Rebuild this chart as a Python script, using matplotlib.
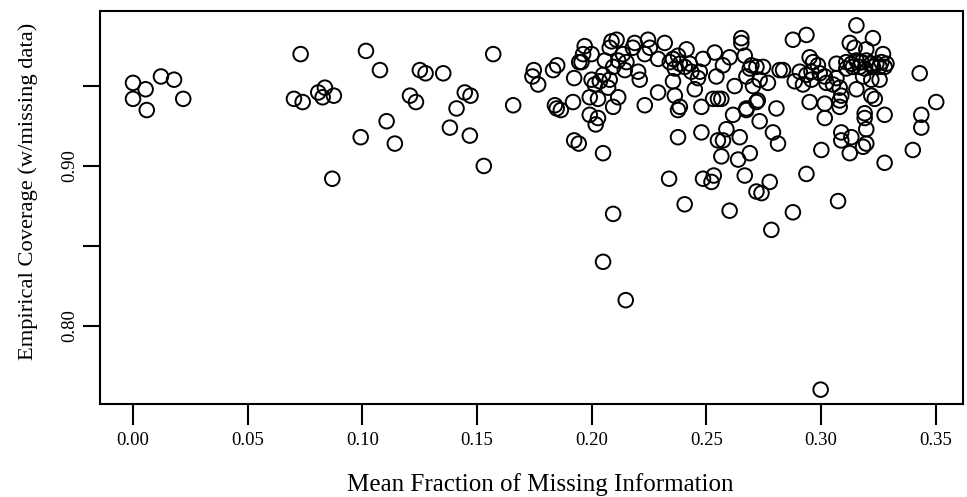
import numpy as np
import matplotlib
matplotlib.use("Agg")
import matplotlib.pyplot as plt

# mean fraction of missing information (x) and empirical coverage (y)
mfmi = [
    0.000, 0.000, 0.0055, 0.006, 0.0122, 0.0179, 0.0219,
    0.0731, 0.0702, 0.074, 0.0808, 0.0837, 0.0827, 0.0876, 0.0869,
    0.1016, 0.1077, 0.1106, 0.0993, 0.1142,
    0.1251, 0.1276, 0.1353, 0.1571, 0.1208, 0.1234, 0.1447, 0.1472, 0.1411,
    0.1382, 0.1469, 0.153, 0.1658, 0.1748, 0.1742, 0.1767, 0.1832, 0.185,
    0.1924, 0.1946, 0.184, 0.1848, 0.1866, 0.1919, 0.1924, 0.1944,
    0.197, 0.1963, 0.200, 0.1956, 0.2087, 0.2109, 0.2079, 0.2188, 0.218,
    0.2246, 0.2254, 0.2319, 0.229, 0.2232, 0.2137, 0.2116, 0.2152, 0.2058,
    0.2094, 0.2145, 0.205, 0.2036, 0.200, 0.2014, 0.2079, 0.2072, 0.2116,
    0.1992, 0.2028, 0.2094, 0.1992, 0.2028, 0.2018, 0.205, 0.2203, 0.221,
    0.2232, 0.229, 0.2341, 0.2355, 0.2377, 0.2414, 0.2385, 0.2363, 0.2406,
    0.2428, 0.2435, 0.2472, 0.2464, 0.2486, 0.2537, 0.2602, 0.2573, 0.2544,
    0.2355, 0.2363, 0.2385, 0.2377, 0.245, 0.2479, 0.253, 0.2551, 0.2566,
    0.2624, 0.2653, 0.2653, 0.2668, 0.2617, 0.2675, 0.2377, 0.2479, 0.2551,
    0.2573, 0.2588, 0.2646, 0.2566, 0.2639, 0.269, 0.2338, 0.2486, 0.2523,
    0.2533, 0.2668, 0.2406, 0.2602, 0.2094, 0.2719, 0.2697, 0.2725, 0.2719,
    0.2784, 0.2878, 0.205, 0.2149, 0.2999,
    0.3155, 0.2878, 0.2937, 0.3227, 0.3126, 0.3147, 0.3271, 0.3198, 0.2951,
    0.2966, 0.2987, 0.3068, 0.3111, 0.3133, 0.3155, 0.3177, 0.3198, 0.322,
    0.3242, 0.3264, 0.3286, 0.3111, 0.314, 0.3169, 0.3191, 0.3227, 0.3256,
    0.3278, 0.269, 0.2748, 0.282, 0.2835, 0.2908, 0.2937, 0.2959, 0.2995,
    0.3017, 0.2886, 0.2922, 0.2959, 0.3024, 0.3053, 0.3068, 0.3082, 0.3089,
    0.3082, 0.3155, 0.3184, 0.322, 0.3256, 0.322, 0.3235, 0.2675, 0.2733,
    0.2769, 0.2704, 0.2719, 0.2675, 0.2806, 0.2951, 0.3017, 0.3082, 0.2733,
    0.3017, 0.2791, 0.2813, 0.3002, 0.3089, 0.3089, 0.3133, 0.3126, 0.3191,
    0.3191, 0.3198, 0.3198, 0.3184, 0.3278, 0.3278, 0.3431, 0.3503, 0.3438,
    0.3438, 0.3401, 0.2937, 0.2777, 0.2741, 0.3075,
]
coverage = [
    0.952, 0.942, 0.948, 0.935, 0.956, 0.954, 0.942,
    0.970, 0.942, 0.940, 0.946, 0.949, 0.943, 0.944, 0.892,
    0.972, 0.960, 0.928, 0.918, 0.914,
    0.960, 0.958, 0.958, 0.970, 0.944, 0.940, 0.946, 0.944, 0.936,
    0.924, 0.919, 0.900, 0.938, 0.960, 0.956, 0.951, 0.960, 0.963,
    0.955, 0.965, 0.938, 0.936, 0.935, 0.940, 0.916, 0.914,
    0.975, 0.970, 0.970, 0.965, 0.978, 0.979, 0.974, 0.977, 0.974,
    0.979, 0.974, 0.977, 0.967, 0.970, 0.970, 0.966, 0.965, 0.966,
    0.962, 0.960, 0.957, 0.953, 0.954, 0.951, 0.954, 0.949, 0.943,
    0.943, 0.942, 0.937, 0.932, 0.930, 0.926, 0.908, 0.959, 0.954,
    0.938, 0.946, 0.965, 0.967, 0.969, 0.973, 0.964, 0.961, 0.962,
    0.964, 0.959, 0.959, 0.955, 0.967, 0.971, 0.968, 0.963, 0.956,
    0.953, 0.944, 0.937, 0.935, 0.948, 0.937, 0.942, 0.942, 0.942,
    0.950, 0.977, 0.980, 0.969, 0.932, 0.935, 0.918, 0.921, 0.916,
    0.916, 0.923, 0.918, 0.906, 0.904, 0.908, 0.892, 0.892, 0.890,
    0.894, 0.894, 0.876, 0.872, 0.870, 0.962, 0.963, 0.941, 0.884,
    0.860, 0.871, 0.840, 0.816, 0.760,
    0.988, 0.979, 0.982, 0.980, 0.977, 0.974, 0.970, 0.973, 0.968,
    0.965, 0.963, 0.964, 0.965, 0.964, 0.966, 0.965, 0.966, 0.964,
    0.964, 0.965, 0.964, 0.961, 0.962, 0.962, 0.961, 0.962, 0.962,
    0.962, 0.961, 0.962, 0.960, 0.960, 0.959, 0.957, 0.959, 0.958,
    0.956, 0.953, 0.951, 0.954, 0.952, 0.951, 0.955, 0.949, 0.944,
    0.941, 0.948, 0.956, 0.954, 0.954, 0.944, 0.942, 0.956, 0.954,
    0.952, 0.950, 0.940, 0.936, 0.936, 0.940, 0.939, 0.937, 0.928,
    0.930, 0.921, 0.914, 0.910, 0.921, 0.916, 0.918, 0.908, 0.933,
    0.930, 0.923, 0.914, 0.912, 0.932, 0.902, 0.958, 0.940, 0.932,
    0.924, 0.910, 0.895, 0.890, 0.883, 0.878,
]

x_ticks = [0.00, 0.05, 0.10, 0.15, 0.20, 0.25, 0.30, 0.35]
y_ticks = [0.80, 0.85, 0.90, 0.95]
y_ticklabels = ["0.80", "", "0.90", ""]

plt.rcParams["font.family"] = ["Liberation Serif", "DejaVu Serif"]

fig = plt.figure(figsize=(9.67, 4.97), dpi=100)
ax = fig.add_axes([0.1034, 0.1871, 0.8925, 0.7908])

ax.scatter(mfmi, coverage, s=110, facecolors="none", edgecolors="black",
           linewidths=1.4)

ax.set_xlim(-0.0144, 0.362)
ax.set_ylim(0.751, 0.997)

ax.set_xticks(x_ticks)
ax.set_xticklabels([f"{v:.2f}" for v in x_ticks], fontsize=13.5)
ax.set_yticks(y_ticks)
ax.set_yticklabels(y_ticklabels, fontsize=13.5, rotation=90, va="center")

ax.tick_params(axis="x", length=15, width=1.5, pad=5)
ax.tick_params(axis="y", length=12, width=1.5, pad=4)
for sp in ax.spines.values():
    sp.set_linewidth(1.5)

ax.set_xlabel("Mean Fraction of Missing Information", fontsize=18)
ax.set_ylabel("Empirical Coverage (w/missing data)", fontsize=16.2)
ax.xaxis.set_label_coords(0.51, -0.175)
ax.yaxis.set_label_coords(-0.072, 0.54)

fig.savefig("out.png", dpi=100)
